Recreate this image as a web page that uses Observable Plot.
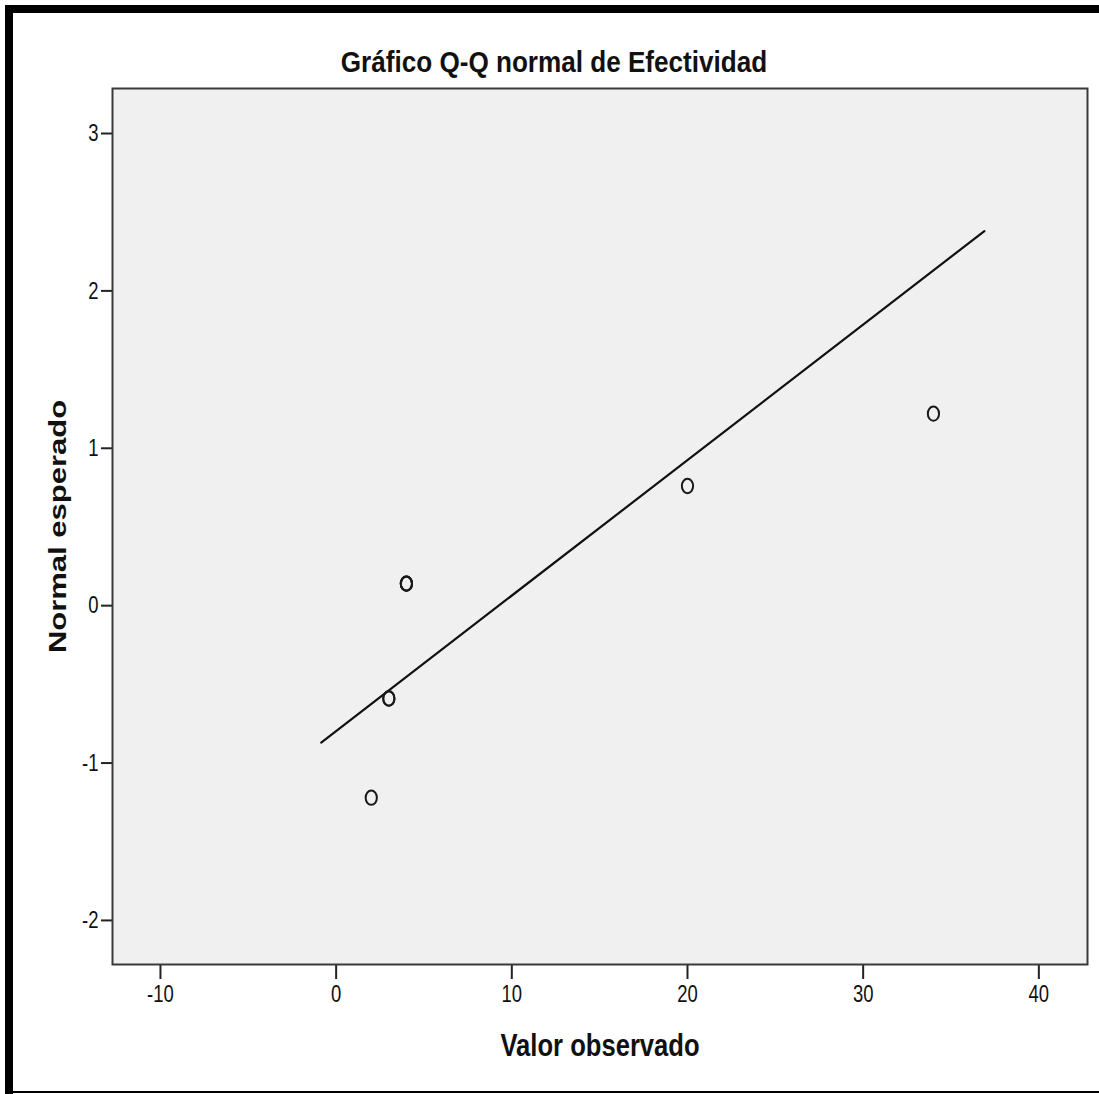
<!DOCTYPE html>
<html>
<head>
<meta charset="utf-8">
<script src="https://cdn.jsdelivr.net/npm/d3@7"></script>
<script src="https://cdn.jsdelivr.net/npm/@observablehq/plot@0.6"></script>
<style>
  html, body { margin: 0; padding: 0; background: #fff; }
  #wrap { position: relative; width: 1099px; height: 1094px; overflow: hidden; }
  .bl { position: absolute; background: #000; }
</style>
</head>
<body>
<div id="wrap">
  <div id="chart"></div>
  <div class="bl" style="left:5px;top:5px;width:8px;height:1089px;"></div>
  <div class="bl" style="left:5px;top:5px;width:1094px;height:8px;"></div>
  <div class="bl" style="left:5px;top:1091px;width:1094px;height:2px;"></div>
</div>
<script>
const observed = [2, 3, 3, 4, 4, 4, 20, 34];
const expected = [-1.22, -0.59, -0.59, 0.14, 0.14, 0.14, 0.76, 1.22];
// Reference line end points
const lineX = [-0.85, 36.9];
const lineY = [-0.87, 2.38];
const xTicks = [-10, 0, 10, 20, 30, 40];
const yTicks = [-2, -1, 0, 1, 2, 3];
const title = "Gráfico Q-Q normal de Efectividad";
const xLabel = "Valor observado";
const yLabel = "Normal esperado";

const points = observed.map((x, i) => ({x, y: expected[i]}));
const refLine = lineX.map((x, i) => ({x, y: lineY[i]}));

const ellipse = {
  draw(context, size) {
    const r = Math.sqrt(size / Math.PI);
    const rx = r * 0.78, ry = r, k = 0.5523;
    context.moveTo(rx, 0);
    context.bezierCurveTo(rx, ry * k, rx * k, ry, 0, ry);
    context.bezierCurveTo(-rx * k, ry, -rx, ry * k, -rx, 0);
    context.bezierCurveTo(-rx, -ry * k, -rx * k, -ry, 0, -ry);
    context.bezierCurveTo(rx * k, -ry, rx, -ry * k, rx, 0);
    context.closePath();
  }
};

const font = "'Liberation Sans', Arial, sans-serif";
const fmt = d => String(d);

const chart = Plot.plot({
  width: 1099,
  height: 1094,
  marginLeft: 112,
  marginRight: 12,
  marginTop: 88,
  marginBottom: 130,
  style: {fontFamily: font, background: "transparent", color: "#111"},
  x: {domain: [-12.73, 42.77]},
  y: {domain: [-2.28, 3.286]},
  marks: [
    Plot.frame({fill: "#f0f0f0", stroke: null}),
    Plot.axisX(xTicks, {tickSize: 15, tickPadding: 5, fontSize: 24, strokeWidth: 2, stroke: "#222", label: null, tickFormat: fmt, className: "xt"}),
    Plot.axisY(yTicks, {tickSize: 11, tickPadding: 3, fontSize: 24, strokeWidth: 2, stroke: "#222", label: null, tickFormat: fmt, className: "yt"}),
    Plot.line(refLine, {x: "x", y: "y", stroke: "#111", strokeWidth: 2.2}),
    Plot.dot(points, {x: "x", y: "y", r: 7.2, symbol: ellipse, stroke: "#1a1a1a", strokeWidth: 2, fill: "none"}),
    Plot.frame({stroke: "#3a3a3a", strokeWidth: 2}),
    Plot.text([title], {frameAnchor: "top", dx: -46, dy: -17, lineAnchor: "bottom", textAnchor: "middle", fontSize: 29, fontWeight: "bold", fill: "#111", className: "ttl"}),
    Plot.text([xLabel], {frameAnchor: "bottom", dy: 91, lineAnchor: "bottom", textAnchor: "middle", fontSize: 32, fontWeight: "bold", fill: "#111", className: "xl"}),
    Plot.text([yLabel], {frameAnchor: "left", dx: -47, rotate: -90, lineAnchor: "bottom", textAnchor: "middle", fontSize: 31, fontWeight: "bold", fill: "#111", className: "yl"})
  ]
});

document.getElementById("chart").appendChild(chart);

function squeeze(selector, factor) {
  chart.querySelectorAll(selector).forEach(t => {
    const len = t.getComputedTextLength();
    if (len > 0) {
      t.setAttribute("textLength", (len * factor).toFixed(2));
      t.setAttribute("lengthAdjust", "spacingAndGlyphs");
    }
  });
}
squeeze(".xt text, .yt text", 0.77);
squeeze(".xl text", 0.8);
squeeze(".ttl text", 0.9);
// compress the rotated label's glyph height (horizontal on screen)
chart.querySelectorAll(".yl text").forEach(t => {
  const tr = t.getAttribute("transform") || "";
  t.setAttribute("transform", tr + " scale(1,0.8)");
});
</script>
</body>
</html>
